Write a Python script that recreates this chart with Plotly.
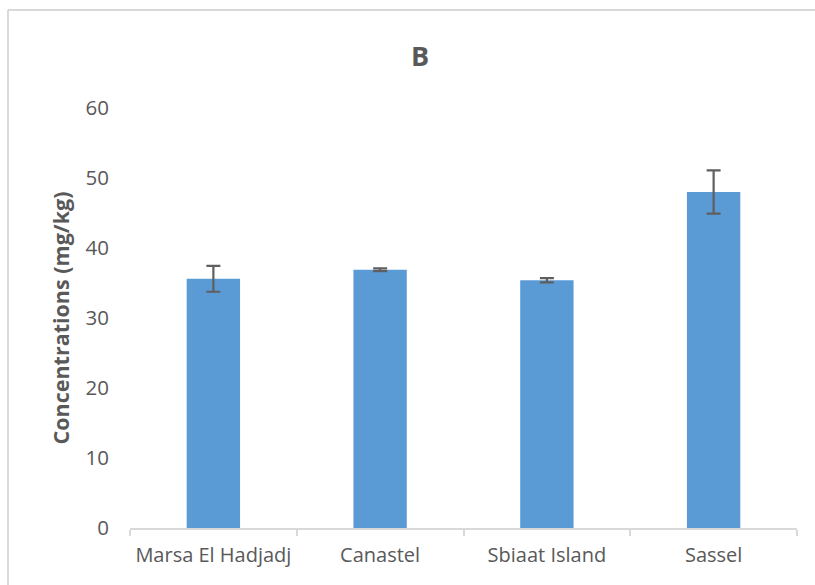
import plotly.graph_objects as go

# Sites and measured concentrations (mg/kg) with their standard deviations
sites = ["Marsa El Hadjadj", "Canastel", "Sbiaat Island", "Sassel"]
concentrations = [35.6, 36.9, 35.4, 48.0]
std_dev = [1.85, 0.2, 0.3, 3.1]

W, H = 815, 585
L, R, T, B = 130, 18, 108, 57
pw, ph = W - L - R, H - T - B

font_family = "Open Sans, sans-serif"
grey = "#595959"
frame = "#d9d9d9"

fig = go.Figure(
    go.Bar(
        x=sites,
        y=concentrations,
        width=0.32,
        marker=dict(color="#5B9BD5", line=dict(width=0)),
        error_y=dict(type="data", array=std_dev, visible=True,
                     color="#5f5f5f", thickness=2.2, width=7),
    )
)

# Light grey frame: top and left edges of the chart area
x_left = (8 - L) / pw
y_top = 1 + (T - 10) / ph
fig.add_shape(type="line", xref="paper", yref="paper",
              x0=x_left, x1=(W + 50 - L) / pw, y0=y_top, y1=y_top,
              line=dict(color=frame, width=2), layer="below")
fig.add_shape(type="line", xref="paper", yref="paper",
              x0=x_left, x1=x_left, y0=y_top, y1=-(H + 50 - (T + ph)) / ph,
              line=dict(color=frame, width=2), layer="below")

fig.update_layout(
    width=W, height=H,
    margin=dict(l=L, r=R, t=T, b=B),
    paper_bgcolor="white", plot_bgcolor="white",
    font=dict(family=font_family, color=grey, size=19),
    showlegend=False,
    title=dict(text="<b>B</b>", x=420 / W, xanchor="center",
               y=1 - 57 / H, yanchor="middle",
               font=dict(size=27, color=grey, family=font_family)),
    xaxis=dict(
        showline=True, linecolor=frame, linewidth=1.5,
        ticks="outside", tickson="boundaries", ticklen=6,
        tickcolor=frame, tickwidth=1.5, ticklabelstandoff=8,
        tickfont=dict(size=20, color=grey),
        showgrid=False, fixedrange=True,
    ),
    yaxis=dict(
        range=[0, 60], dtick=10, showgrid=False, zeroline=False,
        showline=False, ticks="", ticklabelstandoff=20,
        tickfont=dict(size=20.5, color=grey),
        title=dict(text="<b>Concentrations (mg/kg)</b>", standoff=10,
                   font=dict(size=21.5, color=grey)),
        fixedrange=True,
    ),
)

fig.write_html("out.html")
